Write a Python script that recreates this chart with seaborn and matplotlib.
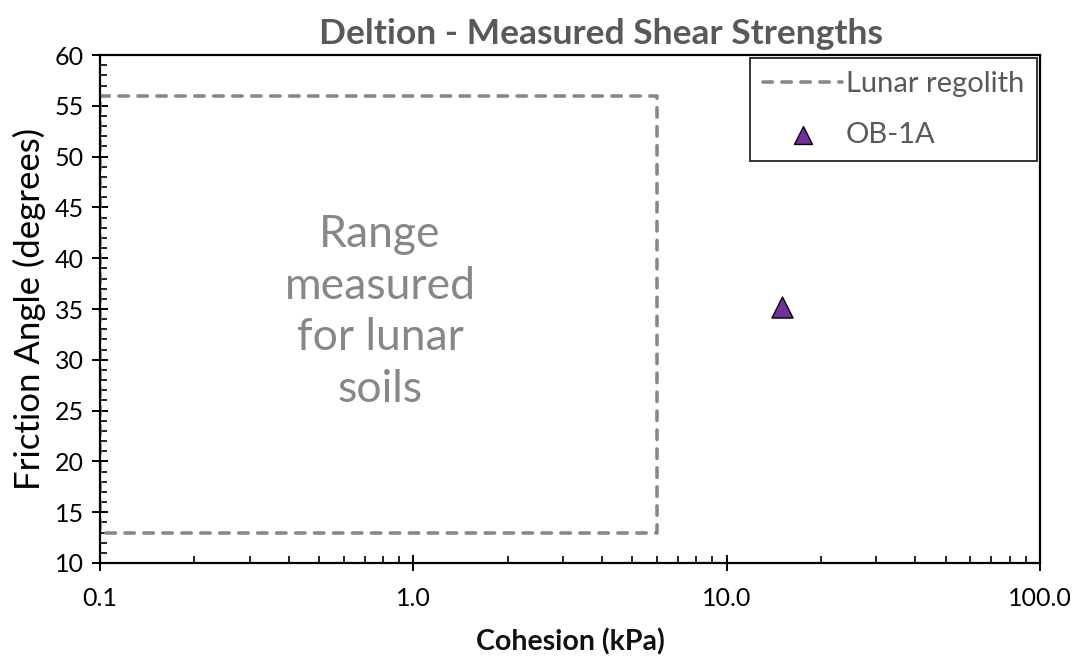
import numpy as np
import pandas as pd
import matplotlib
matplotlib.use("Agg")
import matplotlib.pyplot as plt
from matplotlib.ticker import FixedLocator, NullFormatter, MultipleLocator
import seaborn as sns

# Lunar regolith range outline (cohesion kPa, friction angle deg)
lunar_cohesion = [0.1, 6.0, 6.0, 0.1, 0.1]
lunar_friction = [56, 56, 13, 13, 56]

# Measured sample
sample_names = ["OB-1A"]
sample_cohesion = [15.0]
sample_friction = [35.2]

x_ticks = [0.1, 1.0, 10.0, 100.0]
x_tick_labels = ["0.1", "1.0", "10.0", "100.0"]
y_ticks = [10, 15, 20, 25, 30, 35, 40, 45, 50, 55, 60]

sns.set_theme(style="white")
plt.rcParams["font.family"] = ["Lato", "DejaVu Sans"]

fig = plt.figure(figsize=(10.85, 6.59), dpi=100)
ax = fig.add_axes([0.0922, 0.1457, 0.8663, 0.7708])

box_df = pd.DataFrame({"c": lunar_cohesion, "phi": lunar_friction})
sns.lineplot(data=box_df, x="c", y="phi", sort=False, estimator=None, ax=ax,
             color="#888888", linewidth=2.6, label="Lunar regolith",
             dashes=False)
line = ax.get_lines()[-1]
line.set_linestyle((0, (2.6, 2.65)))
line.set_dash_capstyle("round")
line.set_dash_joinstyle("round")

pt_df = pd.DataFrame({"c": sample_cohesion, "phi": sample_friction, "name": sample_names})
sns.scatterplot(data=pt_df, x="c", y="phi", ax=ax, marker="^", s=230,
                color="#7030A0", edgecolor="black", linewidth=1.0,
                label=sample_names[0], zorder=5)

ax.set_xscale("log")
ax.set_xlim(0.1, 100)
ax.set_ylim(10, 60)
ax.xaxis.set_major_locator(FixedLocator(x_ticks))
ax.set_xticklabels(x_tick_labels)
ax.xaxis.set_minor_locator(FixedLocator(
    [m * d for d in (0.1, 1, 10) for m in range(2, 10)]))
ax.xaxis.set_minor_formatter(NullFormatter())
ax.set_yticks(y_ticks)
ax.yaxis.set_minor_locator(MultipleLocator(1))

for s in ax.spines.values():
    s.set_color("black")
    s.set_linewidth(1.6)

ax.tick_params(axis="both", which="major", direction="inout", length=11,
               width=1.4, color="black", labelsize=18, labelcolor="black",
               bottom=True, left=True, top=False, right=False)
ax.tick_params(axis="x", which="major", pad=12)
ax.tick_params(axis="y", which="major", pad=6)
ax.tick_params(axis="both", which="minor", direction="in", length=5,
               width=1.2, color="black", bottom=True, left=True,
               top=False, right=False)

ax.set_xlabel("Cohesion (kPa)", fontsize=20.5, fontweight="bold",
              color="#111111", labelpad=13)
ax.set_ylabel("Friction Angle (degrees)", fontsize=25, color="black",
              labelpad=6)
ax.set_title("Deltion - Measured Shear Strengths", fontsize=25.5,
             fontweight="bold", color="#595959", pad=8, x=0.533)

ax.text(0.783, 34.7, "Range\nmeasured\nfor lunar\nsoils", fontsize=32,
        color="#878787", ha="center", va="center", linespacing=1.32)

leg = ax.legend(loc="upper right", fontsize=21, frameon=True, fancybox=False,
                edgecolor="black", handlelength=2.7, handletextpad=0.12,
                borderaxespad=0.1, labelspacing=0.85, borderpad=0.45,
                markerscale=0.85)
leg.get_frame().set_linewidth(1.4)
for t in leg.get_texts():
    t.set_color("#595959")

fig.savefig("out.png", dpi=100)
